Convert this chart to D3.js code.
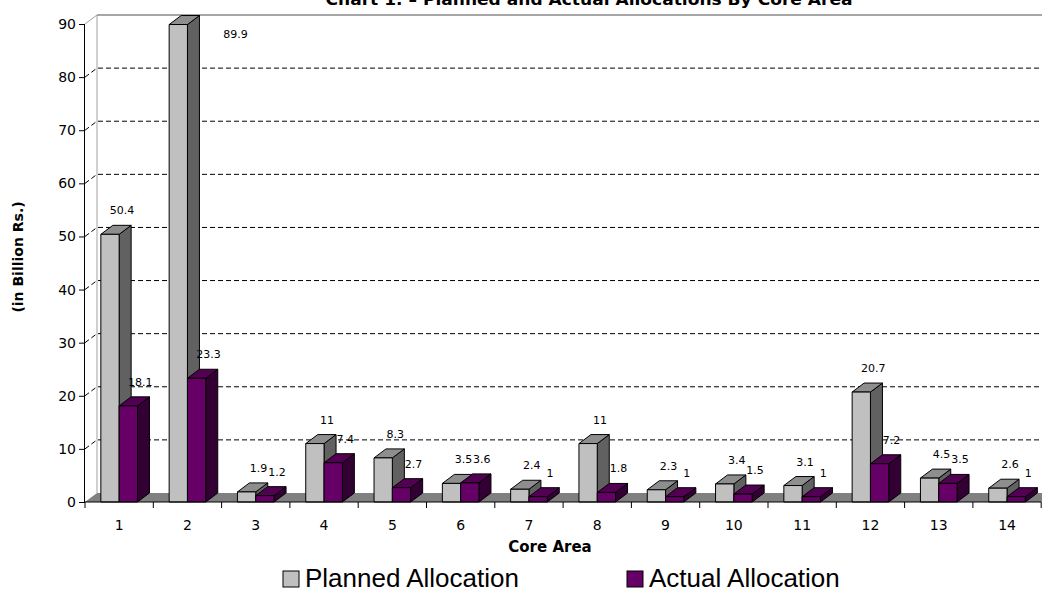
<!DOCTYPE html>
<html>
<head>
<meta charset="utf-8">
<script src="https://cdn.jsdelivr.net/npm/d3@7"></script>
<style>
  body { margin: 0; background: #fff; }
  svg { display: block; }
</style>
</head>
<body>
<div id="chart"></div>
<script>
const categories = ["1", "2", "3", "4", "5", "6", "7", "8", "9", "10", "11", "12", "13", "14"];
const plannedValues = [50.4, 89.9, 1.9, 11, 8.3, 3.5, 2.4, 11, 2.3, 3.4, 3.1, 20.7, 4.5, 2.6];
const actualValues = [18.1, 23.3, 1.2, 7.4, 2.7, 3.6, 1, 1.8, 1, 1.5, 1, 7.2, 3.5, 1];
const yTicks = [0, 10, 20, 30, 40, 50, 60, 70, 80, 90];
const seriesNames = ["Planned Allocation", "Actual Allocation"];

function drawChart(containerId) {
  const width = 1042, height = 592;
  const depthX = 12, depthY = -9;   // oblique 3D offset

  const svg = d3.select(`#${containerId}`)
      .append("svg")
          .attr("width", width)
          .attr("height", height);

  const x = d3.scaleBand()
      .domain(categories)
      .range([85, 1041.2]);

  const y = d3.scaleLinear()
      .domain([0, 90])
      .range([502, 24]);

  const barW = x.bandwidth() * 0.268;

  const series = [
    { name: seriesNames[0], values: plannedValues, front: "#c0c0c0", top: "#8e8e8e", side: "#616161" },
    { name: seriesNames[1], values: actualValues, front: "#660066", top: "#520052", side: "#330033" }
  ];

  // Floor
  const x0 = x.range()[0], x1 = x.range()[1];
  svg.append("polygon")
      .attr("points", [[x0, y(0)], [x0 + depthX, y(0) + depthY], [x1 + depthX, y(0) + depthY], [x1, y(0)]].join(" "))
      .attr("fill", "#808080");

  // Back wall edges
  svg.append("line")
      .attr("x1", x0 + depthX).attr("x2", x0 + depthX)
      .attr("y1", y(90) + depthY).attr("y2", y(0) + depthY)
      .attr("stroke", "#a0a0a0");
  svg.append("line")
      .attr("x1", x0 + depthX).attr("x2", width)
      .attr("y1", y(90) + depthY).attr("y2", y(90) + depthY)
      .attr("stroke", "#a6a6a6")
      .attr("stroke-width", 2);
  svg.append("line")
      .attr("x1", x0).attr("x2", x0 + depthX)
      .attr("y1", y(90)).attr("y2", y(90) + depthY)
      .attr("stroke", "#a0a0a0");

  // Dashed gridlines along side wall and back wall
  svg.append("g")
      .selectAll("polyline")
      .data(yTicks.filter(d => d > 0 && d < 90))
      .join("polyline")
          .attr("points", d => [[x0, y(d)], [x0 + depthX, y(d) + depthY], [width, y(d) + depthY]].join(" "))
          .attr("fill", "none")
          .attr("stroke", "#000")
          .attr("stroke-dasharray", "5,3");

  // Bars: side, top, front for each series, left to right
  const bars = svg.append("g");
  categories.forEach((c, i) => {
    series.forEach((s, j) => {
      const xl = x(c) + x.bandwidth() / 2 - barW + j * barW;
      const xr = xl + barW;
      const yt = y(s.values[i]), yb = y(0);
      const g = bars.append("g")
          .attr("stroke", "#000")
          .attr("stroke-width", 1)
          .attr("stroke-linejoin", "round");
      g.append("polygon")
          .attr("points", [[xr, yt], [xr + depthX, yt + depthY], [xr + depthX, yb + depthY], [xr, yb]].join(" "))
          .attr("fill", s.side);
      g.append("polygon")
          .attr("points", [[xl, yt], [xl + depthX, yt + depthY], [xr + depthX, yt + depthY], [xr, yt]].join(" "))
          .attr("fill", s.top);
      g.append("rect")
          .attr("x", xl).attr("y", yt)
          .attr("width", barW).attr("height", yb - yt)
          .attr("fill", s.front);
    });
  });

  // Value labels
  const labels = svg.append("g")
      .attr("font-family", "DejaVu Sans, sans-serif")
      .attr("font-size", "11px")
      .attr("text-anchor", "middle")
      .attr("fill", "#000");
  categories.forEach((c, i) => {
    series.forEach((s, j) => {
      const v = s.values[i];
      const xl = x(c) + x.bandwidth() / 2 - barW + j * barW;
      let lx = xl + barW / 2 + 12, ly = y(v) - 20;
      if (ly < 30) {               // no room above: put it beside the bar
        lx = xl + barW + depthX + 36;
        ly = y(v) + 13;
      }
      labels.append("text")
          .attr("x", lx)
          .attr("y", ly)
          .text(v);
    });
  });

  // Y axis
  const yAxis = svg.append("g")
      .attr("transform", `translate(${x0},0)`)
      .call(d3.axisLeft(y).tickValues(yTicks).tickSize(6).tickPadding(3).tickFormat(d3.format("d")));
  yAxis.select(".domain").attr("d", `M-0.5,${y(90)}V${y(0)}`).attr("stroke", "#000");
  yAxis.selectAll("text")
      .attr("font-family", "DejaVu Sans, sans-serif")
      .attr("font-size", "14px")
      .attr("fill", "#000");

  // X axis with ticks at category boundaries
  const xAxis = svg.append("g")
      .attr("transform", `translate(0,${y(0)})`);
  xAxis.append("line")
      .attr("x1", x0).attr("x2", x1)
      .attr("stroke", "#000");
  xAxis.selectAll("line.tick")
      .data(d3.range(categories.length + 1))
      .join("line")
          .attr("class", "tick")
          .attr("x1", d => x0 + d * x.step()).attr("x2", d => x0 + d * x.step())
          .attr("y1", 0).attr("y2", 6)
          .attr("stroke", "#000");
  xAxis.selectAll("text")
      .data(categories)
      .join("text")
          .attr("x", d => x(d) + x.bandwidth() / 2)
          .attr("y", 28)
          .attr("text-anchor", "middle")
          .attr("font-family", "DejaVu Sans, sans-serif")
          .attr("font-size", "14px")
          .text(d => d);

  // Axis titles
  svg.append("text")
      .attr("x", 550)
      .attr("y", 552)
      .attr("text-anchor", "middle")
      .attr("font-family", "DejaVu Sans, sans-serif")
      .attr("font-size", "15px")
      .attr("font-weight", "bold")
      .text("Core Area");

  svg.append("text")
      .attr("transform", "translate(23,257) rotate(-90)")
      .attr("text-anchor", "middle")
      .attr("font-family", "DejaVu Sans, sans-serif")
      .attr("font-size", "14px")
      .attr("font-weight", "bold")
      .text("(in Billion Rs.)");

  // Title, cut off at the top edge as in the original
  svg.append("text")
      .attr("x", 589)
      .attr("y", 5)
      .attr("text-anchor", "middle")
      .attr("font-family", "DejaVu Sans, sans-serif")
      .attr("font-size", "15px")
      .attr("font-weight", "bold")
      .attr("textLength", 527)
      .attr("lengthAdjust", "spacingAndGlyphs")
      .text("Chart 1. – Planned and Actual Allocations By Core Area");

  // Legend
  const legendX = [283, 627];
  const legend = svg.append("g")
      .selectAll("g")
      .data(series)
      .join("g")
          .attr("transform", (d, i) => `translate(${legendX[i]},571)`);
  legend.append("rect")
      .attr("width", 16).attr("height", 16)
      .attr("fill", d => d.front)
      .attr("stroke", "#000");
  legend.append("text")
      .attr("x", 22)
      .attr("y", 16)
      .attr("font-family", "Liberation Sans, Arial, sans-serif")
      .attr("font-size", "26px")
      .text(d => d.name);
}

document.addEventListener("DOMContentLoaded", function () {
  drawChart("chart");
});
</script>
</body>
</html>
